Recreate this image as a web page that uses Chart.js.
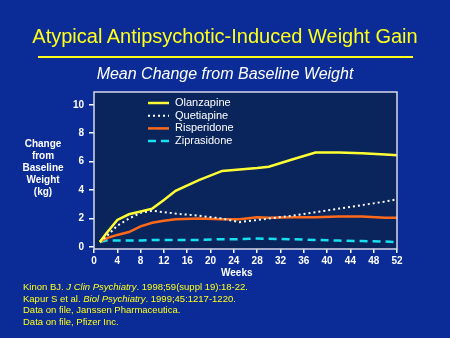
<!DOCTYPE html>
<html>
<head>
<meta charset="utf-8">
<script src="https://cdn.jsdelivr.net/npm/chart.js@4/dist/chart.umd.min.js"></script>
<style>
  html, body { margin: 0; padding: 0; }
  body { width: 450px; height: 338px; background: #0b2c96; position: relative; overflow: hidden;
         font-family: "Liberation Sans", Arial, sans-serif; }
  #wrap { position: absolute; left: 0; top: 0; width: 450px; height: 338px; }
  .t { position: absolute; white-space: nowrap; }
  #title { left: 0; width: 450px; top: 25px; text-align: center; color: #ffff1a; font-size: 20px; }
  #rule { position: absolute; left: 38px; width: 375px; top: 56px; height: 2px; background: #ffff1a; }
  #sub { left: 0; width: 450px; top: 65px; text-align: center; color: #fff; font-size: 16px; font-style: italic; }
  #ytitle { left: 12px; width: 62px; top: 138px; text-align: center; color: #fff; font-size: 10px;
            line-height: 12px; font-weight: bold; white-space: normal; }
  #xtitle { left: 221px; top: 267px; color: #fff; font-size: 10px; font-weight: bold; }
  #notes { left: 23px; top: 281px; color: #ffff1a; font-size: 9.5px; line-height: 11.6px; }
</style>
</head>
<body>
<div id="wrap"><canvas id="c" width="450" height="338"></canvas></div>
<div class="t" id="title">Atypical Antipsychotic-Induced Weight Gain</div>
<div id="rule"></div>
<div class="t" id="sub">Mean Change from Baseline Weight</div>
<div class="t" id="ytitle">Change<br>from<br>Baseline<br>Weight<br>(kg)</div>
<div class="t" id="xtitle">Weeks</div>
<div class="t" id="notes">
  Kinon BJ. <i>J Clin Psychiatry</i>. 1998;59(suppl 19):18-22.<br>
  Kapur S et al. <i>Biol Psychiatry</i>. 1999;45:1217-1220.<br>
  Data on file, Janssen Pharmaceutica.<br>
  Data on file, Pfizer Inc.
</div>
<script>
// Values (weeks vs. mean kg change)
const weeks        = [1, 2, 4, 6, 8, 10, 12, 14, 18, 22, 25, 28, 30, 34, 38, 42, 46, 50, 52];
const olanzapine   = [0.35, 0.9, 1.9, 2.3, 2.5, 2.7, 3.3, 3.95, 4.7, 5.35, 5.45, 5.55, 5.65, 6.15, 6.65, 6.65, 6.6, 6.5, 6.45];
const quetiapine   = [0.35, 0.7, 1.5, 2.0, 2.4, 2.55, 2.45, 2.35, 2.2, 2.0, 1.75, 1.9, 2.0, 2.2, 2.45, 2.7, 2.95, 3.2, 3.35];
const risperidone  = [0.35, 0.6, 0.85, 1.05, 1.45, 1.7, 1.85, 1.95, 2.0, 1.95, 1.95, 2.1, 2.05, 2.1, 2.1, 2.15, 2.15, 2.05, 2.05];
const ziprasidone  = [0.35, 0.45, 0.45, 0.45, 0.45, 0.5, 0.5, 0.5, 0.5, 0.55, 0.55, 0.6, 0.58, 0.55, 0.5, 0.45, 0.42, 0.38, 0.35];
const xTicks = [0, 4, 8, 12, 16, 20, 24, 28, 32, 36, 40, 44, 48, 52];
const yTicks = [0, 2, 4, 6, 8, 10];

const pts = vals => vals.map((v, i) => ({ x: weeks[i], y: v }));

// dark plot panel with a light frame
const panel = {
  id: 'panel',
  beforeDraw(chart) {
    const { ctx, chartArea: a } = chart;
    ctx.save();
    ctx.fillStyle = '#0a245c';
    ctx.fillRect(a.left, a.top, a.right - a.left, a.bottom - a.top);
    ctx.restore();
  },
  afterDraw(chart) {
    const { ctx, chartArea: a } = chart;
    ctx.save();
    ctx.strokeStyle = '#d8d8e8';
    ctx.lineWidth = 1.5;
    ctx.strokeRect(a.left, a.top, a.right - a.left, a.bottom - a.top);
    ctx.restore();
  }
};

// legend drawn inside the plot, top-left
const innerLegend = {
  id: 'innerLegend',
  afterDatasetsDraw(chart) {
    const { ctx } = chart;
    ctx.save();
    ctx.font = '11px "Liberation Sans", Arial, sans-serif';
    ctx.textBaseline = 'middle';
    chart.data.datasets.forEach((ds, i) => {
      const y = 103 + i * 12.7;
      ctx.strokeStyle = ds.borderColor;
      ctx.lineWidth = ds.borderWidth;
      ctx.setLineDash(ds.borderDash || []);
      ctx.beginPath();
      ctx.moveTo(148, y);
      ctx.lineTo(169, y);
      ctx.stroke();
      ctx.setLineDash([]);
      ctx.fillStyle = '#ffffff';
      ctx.fillText(ds.label, 175, y);
    });
    ctx.restore();
  }
};

new Chart(document.getElementById('c'), {
  type: 'line',
  data: {
    datasets: [
      { label: 'Olanzapine',  data: pts(olanzapine),  borderColor: '#ffff33', borderWidth: 2.5 },
      { label: 'Quetiapine',  data: pts(quetiapine),  borderColor: '#ffffff', borderWidth: 2, borderDash: [2, 3] },
      { label: 'Risperidone', data: pts(risperidone), borderColor: '#ff6a1a', borderWidth: 2.5 },
      { label: 'Ziprasidone', data: pts(ziprasidone), borderColor: '#19e0f0', borderWidth: 2.5, borderDash: [8, 5] }
    ]
  },
  options: {
    responsive: false,
    animation: false,
    elements: { point: { radius: 0 }, line: { tension: 0 } },
    layout: { padding: { left: 0, right: 53, top: 92, bottom: 0 } },
    plugins: { legend: { display: false }, tooltip: { enabled: false } },
    scales: {
      x: {
        type: 'linear', min: 0, max: 52,
        afterFit: s => { s.height = 89; },
        afterBuildTicks: s => { s.ticks = xTicks.map(v => ({ value: v })); },
        grid: { drawOnChartArea: false, drawTicks: true, tickLength: 4, color: '#ffffff', lineWidth: 1.5 },
        border: { display: false },
        ticks: { color: '#ffffff', padding: 2, maxRotation: 0, autoSkip: false,
                 font: { family: '"Liberation Sans", Arial, sans-serif', size: 10, weight: 'bold' } }
      },
      y: {
        min: -0.14, max: 10.9,
        afterFit: s => { s.width = 94; },
        afterBuildTicks: s => { s.ticks = yTicks.map(v => ({ value: v })); },
        grid: { drawOnChartArea: false, drawTicks: true, tickLength: 5, color: '#ffffff', lineWidth: 1.5 },
        border: { display: false },
        ticks: { color: '#ffffff', padding: 5,
                 font: { family: '"Liberation Sans", Arial, sans-serif', size: 10, weight: 'bold' } }
      }
    }
  },
  plugins: [panel, innerLegend]
});
</script>
</body>
</html>
